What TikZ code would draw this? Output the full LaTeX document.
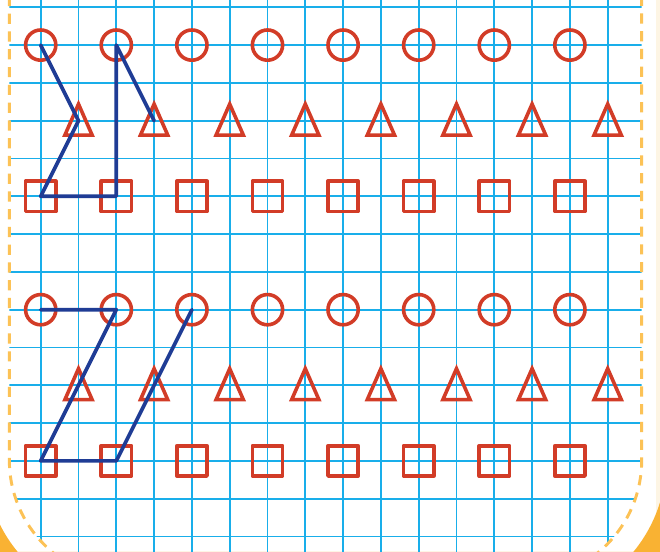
\documentclass[tikz,border=0pt]{standalone}
\definecolor{gridblue}{HTML}{19AEEA}
\definecolor{markred}{HTML}{D23C27}
\definecolor{linkblue}{HTML}{1F3C95}
\definecolor{frameorange}{HTML}{F9B233}
\definecolor{borderorange}{HTML}{FCC256}
\definecolor{cream}{HTML}{FDF5E4}
\begin{document}
\begin{tikzpicture}[line join=round,
	gridline/.style={draw=gridblue, line width=1.3pt},
	dot/.style={circle, draw=markred, line width=2.7pt, minimum size=0.8cm, inner sep=0pt},
	box/.style={rectangle, draw=markred, line width=2.7pt, minimum size=0.8cm, inner sep=0pt},
	tri/.style={draw=markred, line width=2.7pt, line join=miter},
	link/.style={draw=linkblue, line width=2.8pt, line cap=round, line join=round},
	frame/.style={draw=borderorange, line width=2.2pt, dash pattern=on 0.27cm off 0.2cm}]

						\clip (-1.077,0.193) rectangle (16.384,-14.41);
						\fill[white] (-1.077,0.193) rectangle (16.384,-14.41);
						\fill[cream] (16.27,0.193) rectangle (16.384,-14.41);
						\fill[frameorange, even odd rule] (-1.077,0.193) rectangle (16.384,-14.41)
							[rounded corners=3.82cm] (-1.48,5) -- (-1.48,-15.8) -- (16.55,-15.8) -- (16.55,5) -- cycle;

						\begin{scope}
							\clip[rounded corners=3.17cm] (-0.83,5) -- (-0.83,-15.15) -- (15.9,-15.15) -- (15.9,5) -- cycle;
							\foreach \x in {0,...,15}
								\draw[gridline] (\x,1) -- (\x,-15);
							\foreach \y in {0,...,14}
								\draw[gridline] (-1,-\y) -- (16,-\y);
						\end{scope}
						\draw[frame, rounded corners=3.17cm] (-0.83,5) -- (-0.83,-15.15) -- (15.9,-15.15) -- (15.9,5);

						\foreach \c in {0,2,...,14} {
							\node[dot] (ca\c) at (\c,-1) {};
							\node[box] (sa\c) at (\c,-5) {};
							\node[dot] (cb\c) at (\c,-8) {};
							\node[box] (sb\c) at (\c,-12) {};
						}
						\foreach \c in {1,3,...,15} {
							\coordinate (ta\c) at (\c,-3);
							\coordinate (tb\c) at (\c,-10);
							\draw[tri] (ta\c) ++(0,0.44) -- ++(0.36,-0.82) -- ++(-0.72,0) -- cycle;
							\draw[tri] (tb\c) ++(0,0.44) -- ++(0.36,-0.82) -- ++(-0.72,0) -- cycle;
						}

						\draw[link] (ca0.center) -- (ta1) -- (sa0.center) -- (sa2.center) -- (ca2.center) -- (ta3);
						\draw[link] (cb0.center) -- (cb2.center) -- (sb0.center) -- (sb2.center) -- (cb4.center);
					\end{tikzpicture}
\end{document}
